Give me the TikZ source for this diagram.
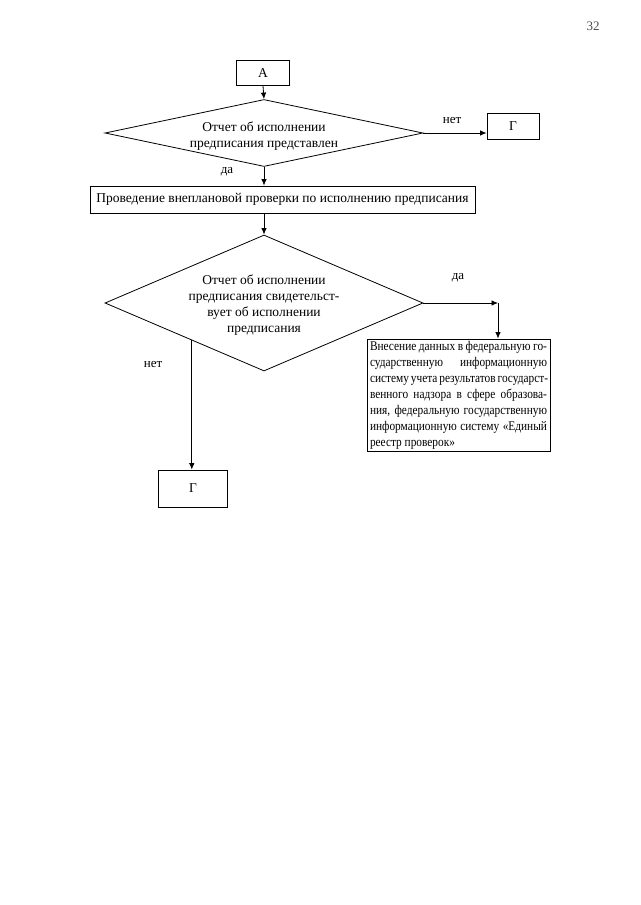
\documentclass[tikz,border=0pt]{standalone}
\usepackage{fontspec}
\setmainfont{Liberation Serif}
\newfontfamily\narrowfont[FakeStretch=0.86]{Liberation Serif}
\usetikzlibrary{shapes.geometric,arrows.meta,calc}
\newcommand{\jl}[1]{\makebox[177pt][s]{#1}\\}
\tikzset{
  box/.style={draw, line width=0.8pt, inner sep=0pt, rectangle},
  diam/.style={draw, line width=0.8pt, diamond, inner sep=0pt},
  txt/.style={font=\fontsize{13.5}{16}\selectfont, align=center, inner sep=0pt},
  lbl/.style={font=\fontsize{13}{14}\selectfont, inner sep=0pt},
  arr/.style={line width=0.8pt, -{Latex[length=6.5pt,width=5.5pt]}},
  ln/.style={line width=0.8pt}
}
\begin{document}
\begin{tikzpicture}[x=1pt,y=-1pt]
\useasboundingbox[fill=white] (0,0) rectangle (640,905);
\node[lbl, text=black!70] (pg) at (593,26) {32};
% top
\node[box, minimum width=53, minimum height=25] (a) at (263,73) {};
\node[txt] (at) at (a) {А};
\node[diam, minimum width=318, minimum height=67] (d1) at (264,133) {};
\node[txt] (d1t) at (264,136) {Отчет об исполнении\\предписания представлен};
\node[box, minimum width=52, minimum height=26] (g1) at (513,126) {};
\node[txt] (g1t) at (g1) {Г};
\node[box, minimum width=385, minimum height=27] (b2) at (282.5,199.5) {};
\node[txt] (b2t) at (b2) {Проведение внеплановой проверки по исполнению предписания};
\node[diam, minimum width=318, minimum height=136] (d2) at (264,303) {};
\node[txt] (d2t) at (264,305) {Отчет об исполнении\\предписания свидетельст-\\вует об исполнении\\предписания};
\node[box, minimum width=183, minimum height=112] (b3) at (458.5,395) {};
\node[font=\narrowfont\fontsize{13.2}{16}\selectfont, align=left, inner sep=0pt, anchor=north] (b3t) at (458.5,341) {\jl{Внесение данных в федеральную го-}\jl{сударственную информационную}\jl{систему учета результатов государст-}\jl{венного надзора в сфере образова-}\jl{ния, федеральную государственную}\jl{информационную систему «Единый}реестр проверок»};
\node[box, minimum width=69, minimum height=37] (g2) at (193,488.5) {};
\node[txt] (g2t) at (g2) {Г};
% labels
\node[lbl] (l1) at (452,120) {нет};
\node[lbl] (l2) at (227,172) {да};
\node[lbl] (l3) at (458,278) {да};
\node[lbl] (l4) at (153,364) {нет};
% connectors
\draw[arr] (a.south) -- (d1.north);
\draw[arr] (d1.east) -- (d1.east -| g1.west);
\draw[arr] (d1.south) -- (d1.south |- b2.north);
\draw[arr] (b2.south -| d2.north) -- (d2.north);
\coordinate (yc) at (498,303);
\draw[arr] (d2.east) -- (yc);
\draw[arr] (yc) -- (yc |- b3.north);
\coordinate (ns) at ($(d2.west)!0.547!(d2.south)$);
\draw[arr] (ns) -- (ns |- g2.north);
\end{tikzpicture}
\end{document}
